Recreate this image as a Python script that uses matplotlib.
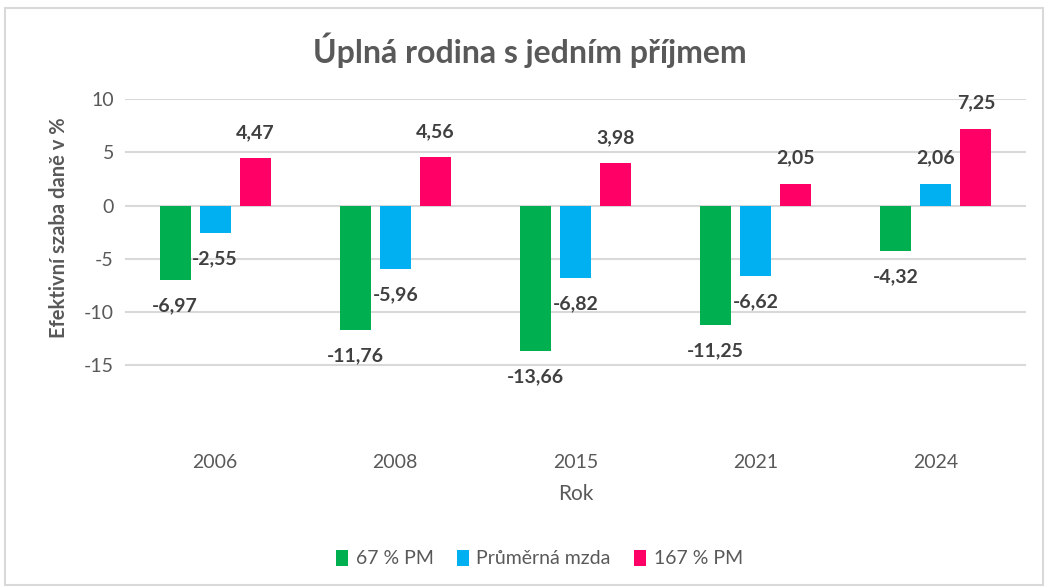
import matplotlib.pyplot as plt
import numpy as np
from matplotlib.patches import Rectangle

years = ['2006', '2008', '2015', '2021', '2024']
series_names = ['67 % PM', 'Průměrná mzda', '167 % PM']
pm67 = [-6.97, -11.76, -13.66, -11.25, -4.32]
prumer = [-2.55, -5.96, -6.82, -6.62, 2.06]
pm167 = [4.47, 4.56, 3.98, 2.05, 7.25]
colors = ['#00B050', '#00B0F0', '#FF0066']

plt.rcParams['font.family'] = ['Lato', 'DejaVu Sans']
plt.rcParams['axes.unicode_minus'] = False
txt = '#595959'

fig = plt.figure(figsize=(10.49, 5.88), dpi=100)
ax = fig.add_axes([0.1192, 0.244, 0.8588, 0.587])

x = np.arange(len(years))
step = 0.222
width = 0.172
for i, (vals, name) in enumerate(zip([pm67, prumer, pm167], series_names)):
    pos = x + (i - 1) * step
    ax.bar(pos, vals, width, color=colors[i], label=name, zorder=3)
    for px, v in zip(pos, vals):
        off = 18.5 if v >= 0 else -18.5
        ax.annotate(f'{v:.2f}'.replace('.', ','), (px, v), xytext=(0, off),
                    textcoords='offset points', ha='center', va='center',
                    fontsize=14, fontweight='bold', color='#404040',
                    annotation_clip=False)

ax.set_xlim(-0.5, len(years) - 0.5)
ax.set_ylim(-22.5, 10)
ax.set_yticks([-15, -10, -5, 0, 5, 10])
ax.set_xticks(x)
ax.set_xticklabels(years)
ax.tick_params(axis='both', length=0, labelsize=14, labelcolor=txt)
ax.tick_params(axis='y', pad=8)
ax.tick_params(axis='x', pad=7)
ax.grid(axis='y', color='#D9D9D9', linewidth=1.5, zorder=0)
for s in ax.spines.values():
    s.set_visible(False)

ax.set_xlabel('Rok', fontsize=15, color=txt, labelpad=9)
ax.set_ylabel('Efektivní szaba daně v %', fontsize=14.5, fontweight='bold',
              color=txt)
ax.yaxis.set_label_coords(-0.062, 0.627)

fig.text(0.505, 0.915, 'Úplná rodina s jedním příjmem', ha='center', va='center',
         fontsize=23, fontweight='bold', color=txt)

ax.legend(loc='center', bbox_to_anchor=(0.46, -0.33), ncol=3, frameon=False,
          fontsize=14, labelcolor=txt, handlelength=0.6, handleheight=0.9,
          handletextpad=0.4, columnspacing=1.2)

fig.add_artist(Rectangle((5 / 1049, 3 / 588), 1038 / 1049, 577 / 588,
                         transform=fig.transFigure, fill=False,
                         edgecolor='#D9D9D9', linewidth=1.5))

fig.savefig('out.png', dpi=100)
